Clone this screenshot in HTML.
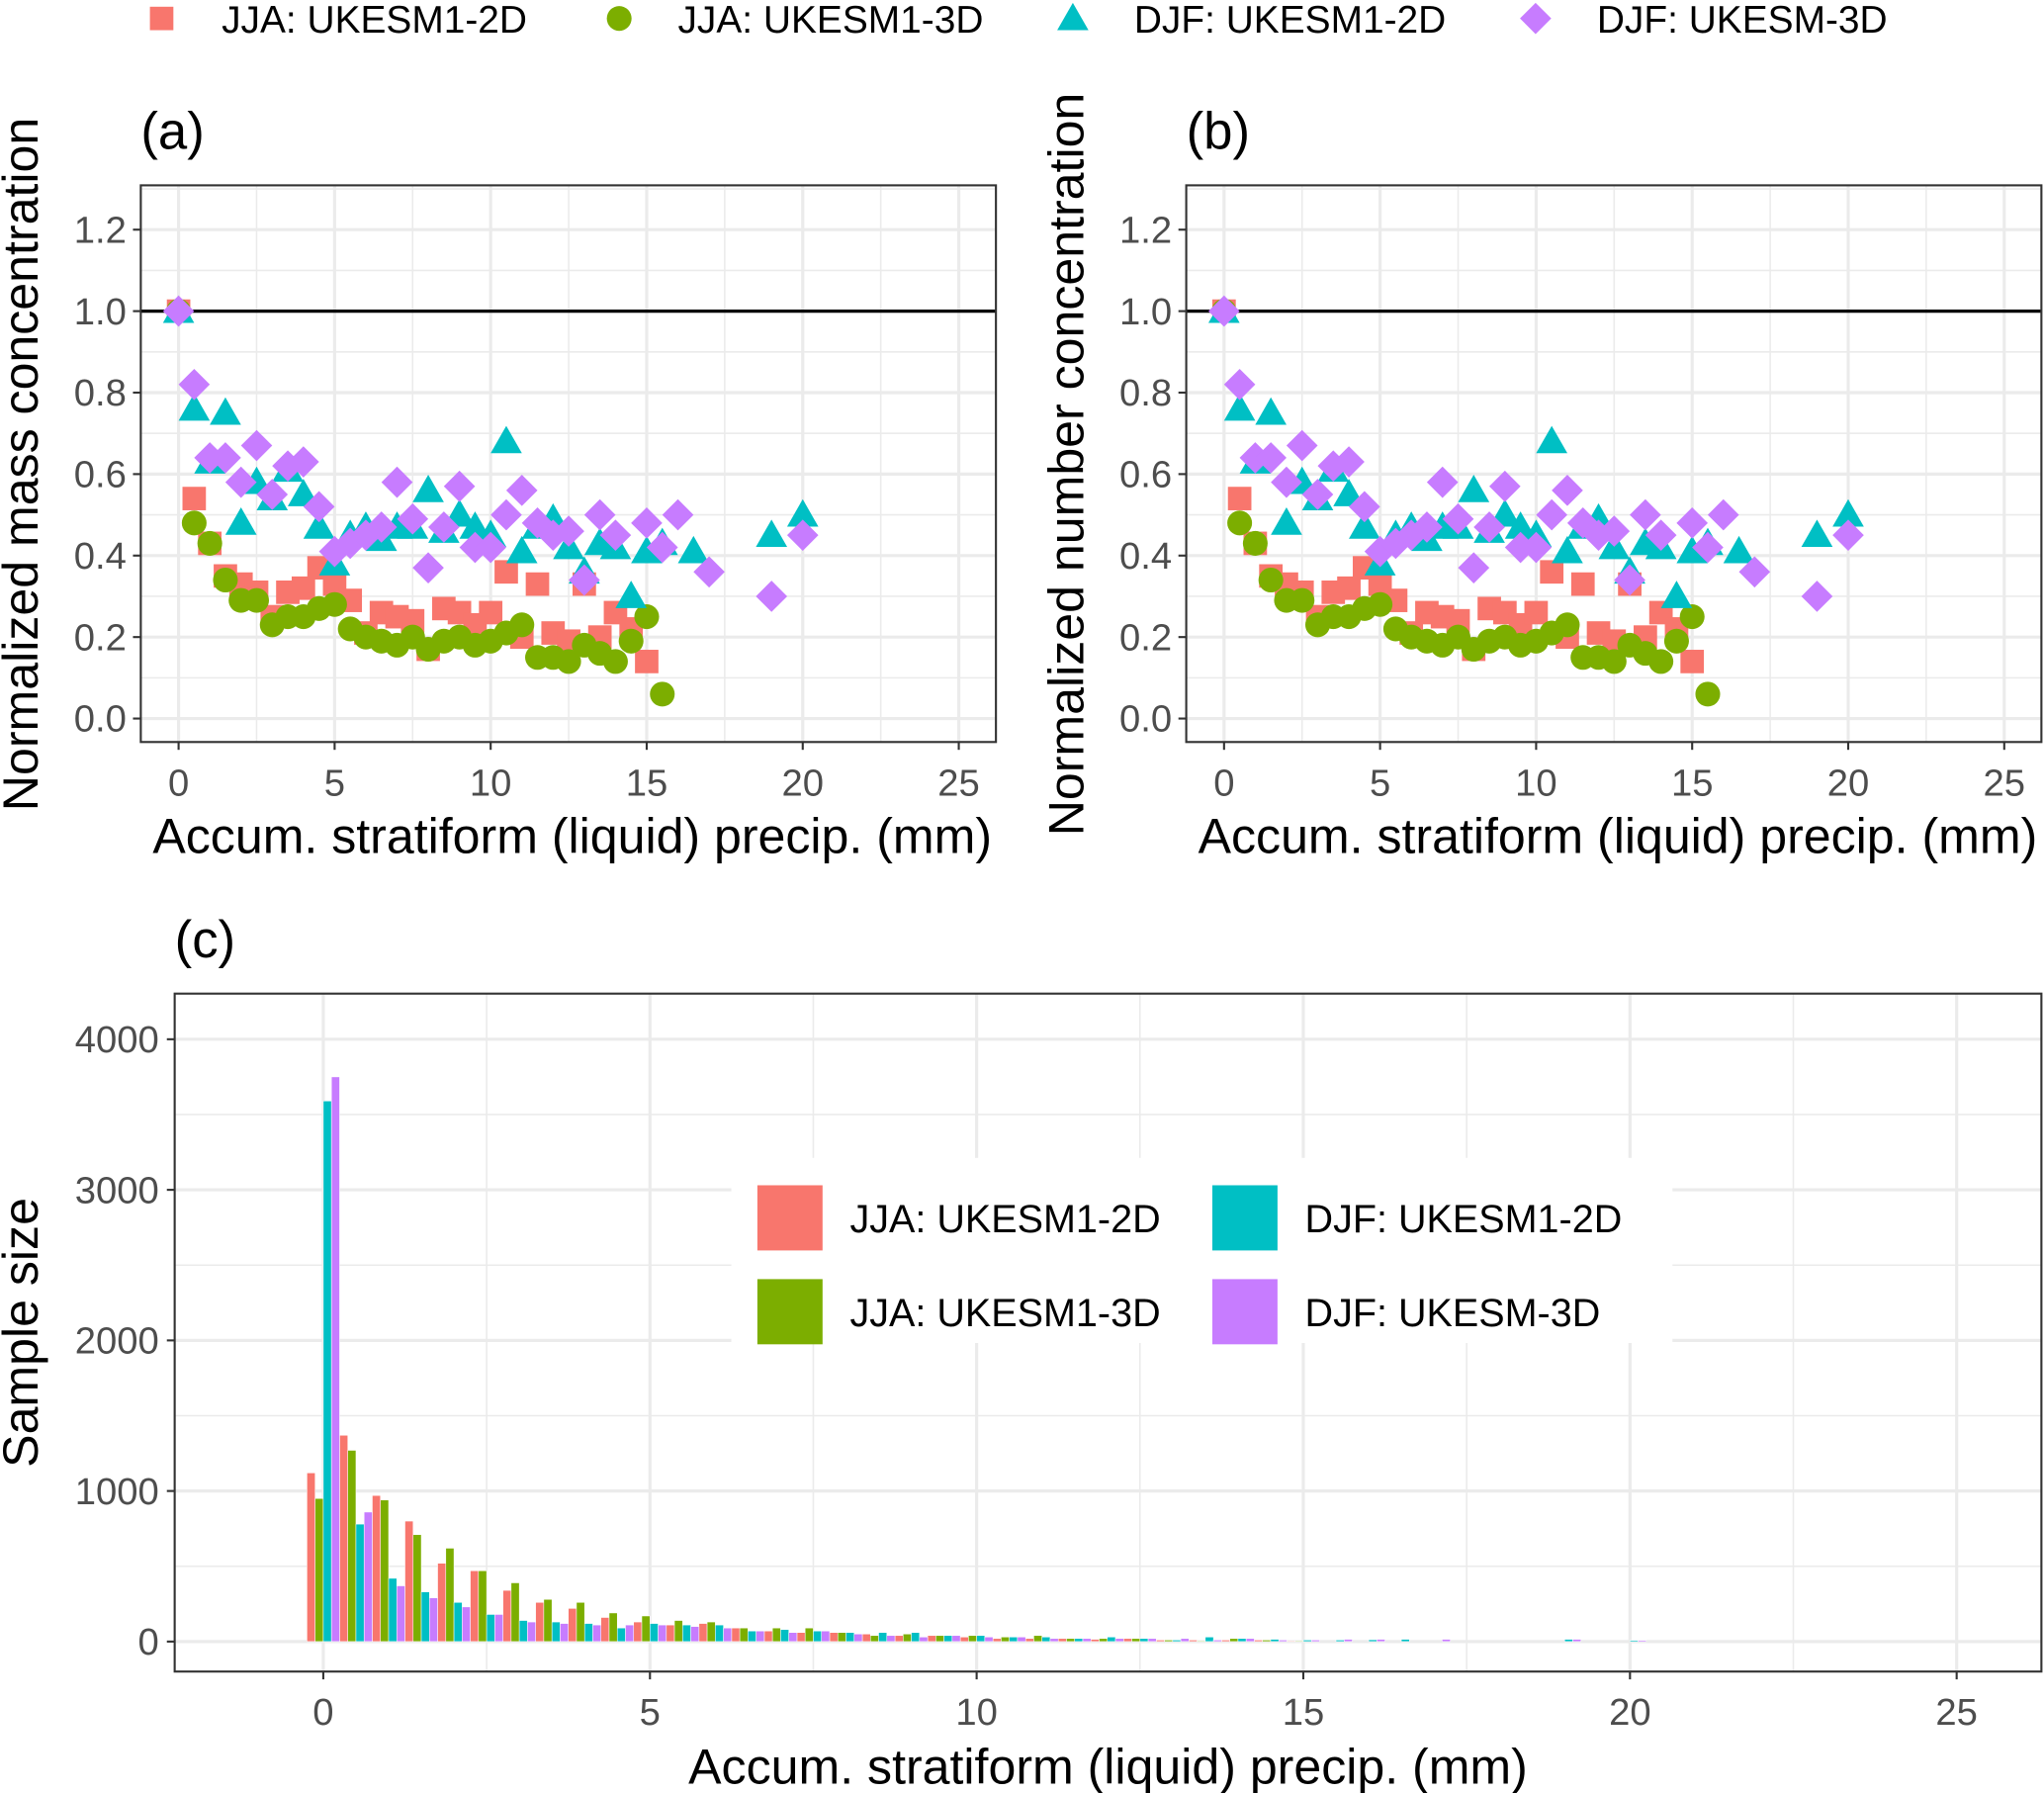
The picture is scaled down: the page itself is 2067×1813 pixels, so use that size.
<!DOCTYPE html>
<html><head><meta charset="utf-8"><style>
html,body{margin:0;padding:0;background:#fff}
svg{display:block}
text{font-family:"Liberation Sans",Arial,sans-serif}
</style></head><body>
<svg id="fig" width="2067" height="1813" viewBox="0 0 1568 1375" xmlns="http://www.w3.org/2000/svg"></svg>
<script>
// ---------- data ----------
const bins = [0,0.5,1,1.5,2,2.5,3,3.5,4,4.5,5,5.5,6,6.5,7,7.5,8,8.5,9,9.5,10,10.5,11,11.5,12,12.5,13,13.5,14,14.5,15,15.5,16,16.5,17,17.5,18,18.5,19,19.5,20];
const jja2dX = [0,0.5,1,1.5,2,2.5,3,3.5,4,4.5,5,5.5,6,6.5,7,7.5,8,8.5,9,9.5,10,10.5,11,11.5,12,12.5,13,13.5,14,14.5,15];
const jja2dY = [1.0,0.54,0.43,0.35,0.33,0.31,0.25,0.31,0.32,0.37,0.33,0.29,0.21,0.26,0.25,0.24,0.17,0.27,0.26,0.23,0.26,0.36,0.20,0.33,0.21,0.19,0.33,0.20,0.26,0.22,0.14];
const jja3dX = [0,0.5,1,1.5,2,2.5,3,3.5,4,4.5,5,5.5,6,6.5,7,7.5,8,8.5,9,9.5,10,10.5,11,11.5,12,12.5,13,13.5,14,14.5,15,15.5];
const jja3dY = [1.0,0.48,0.43,0.34,0.29,0.29,0.23,0.25,0.25,0.27,0.28,0.22,0.20,0.19,0.18,0.20,0.17,0.19,0.20,0.18,0.19,0.21,0.23,0.15,0.15,0.14,0.18,0.16,0.14,0.19,0.25,0.06];
const djf2dX = [0,0.5,1,1.5,2,2.5,3,3.5,4,4.5,5,5.5,6,6.5,7,7.5,8,8.5,9,9.5,10,10.5,11,11.5,12,12.5,13,13.5,14,14.5,15,15.5,16.5,19,20];
const djf2dY = [1.0,0.76,0.63,0.75,0.48,0.58,0.54,0.61,0.55,0.47,0.38,0.45,0.47,0.44,0.47,0.47,0.56,0.46,0.50,0.47,0.45,0.68,0.41,0.47,0.49,0.42,0.36,0.43,0.42,0.30,0.41,0.43,0.41,0.45,0.50];
const djf3dX = [0,0.5,1,1.5,2,2.5,3,3.5,4,4.5,5,5.5,6,6.5,7,7.5,8,8.5,9,9.5,10,10.5,11,11.5,12,12.5,13,13.5,14,15,15.5,16,17,19,20];
const djf3dY = [1.0,0.82,0.64,0.64,0.58,0.67,0.55,0.62,0.63,0.52,0.41,0.43,0.45,0.47,0.58,0.49,0.37,0.47,0.57,0.42,0.42,0.50,0.56,0.48,0.45,0.46,0.34,0.50,0.45,0.48,0.42,0.50,0.36,0.30,0.45];
// panel (c) counts per bin
const nJja2d = [1120,1370,970,800,520,470,340,260,220,160,130,110,120,90,70,60,60,50,40,40,30,20,20,20,15,20,10,10,10,10,5,0,0,0,0,0,0,0,0,0,0];
const nJja3d = [950,1270,940,710,620,470,390,280,260,190,170,140,130,90,90,90,60,40,50,40,40,30,40,20,20,20,10,5,20,10,5,0,0,0,0,0,0,0,0,0,0];
const nDjf2d = [3590,780,420,330,260,180,140,130,120,90,120,110,110,70,80,70,60,60,60,40,40,30,30,20,30,20,10,30,20,15,10,10,12,15,0,0,0,0,15,0,8];
const nDjf3d = [3750,860,370,290,230,180,130,120,110,110,110,100,90,70,60,70,50,40,30,40,30,30,20,20,20,20,20,10,20,10,10,15,15,0,15,0,0,0,15,0,8];
const xTicks = [0,5,10,15,20,25];
const yTicksAB = ["0.0","0.2","0.4","0.6","0.8","1.0","1.2"];
const yTicksC = [0,1000,2000,3000,4000];
const COL = {r:"#F8766D", g:"#7CAE00", t:"#00BFC4", p:"#C77CFF"};

const NS="http://www.w3.org/2000/svg";
const svg=document.getElementById('fig');
function el(tag,attrs,parent){const e=document.createElementNS(NS,tag);for(const k in attrs)e.setAttribute(k,attrs[k]);(parent||svg).appendChild(e);return e;}
function txt(s,attrs,parent){const e=el('text',attrs,parent);e.textContent=s;return e;}

function marker(shape,cx,cy,g){
  let m;
  if(shape==='r'){m=el('rect',{x:cx-9,y:cy-9,width:18,height:18,fill:COL.r},g);}
  else if(shape==='g'){m=el('circle',{cx:cx,cy:cy,r:9.5,fill:COL.g},g);}
  else if(shape==='t'){m=el('polygon',{points:`${cx},${cy-12} ${cx+12},${cy+9} ${cx-12},${cy+9}`,fill:COL.t},g);}
  else {m=el('polygon',{points:`${cx},${cy-12} ${cx+12},${cy} ${cx},${cy+12} ${cx-12},${cy}`,fill:COL.p},g);}
  return m;
}

// ---------- top legend ----------
const tl=el('g',{},svg);


const legItems=[['r',124,170,'JJA: UKESM1-2D'],['g',475,520,'JJA: UKESM1-3D'],['t',823,870,'DJF: UKESM1-2D'],['p',1178,1225,'DJF: UKESM-3D']];
legItems.forEach(it=>{
  const g=el('g',{},tl);
  
  
  marker(it[0],it[1],14,g);
  txt(it[3],{x:it[2],y:25,'font-size':29.5,fill:'#000'},g);
});

// ---------- scatter panels ----------
function scatterPanel(x0,label,ytitle,name){
  const X0=x0, X1=x0+656, Y0=142, Y1=569;
  const xs=v=>x0+29+v*23.94;
  const ys=v=>551-v*312.5;
  const g=el('g',{},svg);
  
  
  for(let v=2.5;v<=27.5;v+=5){const x=xs(v);if(x<X1)el('line',{x1:x,x2:x,y1:Y0,y2:Y1,stroke:'#ebebeb','stroke-width':1.2},g);}
  for(let v=0.1;v<1.35;v+=0.2){el('line',{x1:X0,x2:X1,y1:ys(v),y2:ys(v),stroke:'#ebebeb','stroke-width':1.2},g);}
  xTicks.forEach(v=>el('line',{x1:xs(v),x2:xs(v),y1:Y0,y2:Y1,stroke:'#ebebeb','stroke-width':2.4},g));
  yTicksAB.forEach(s=>el('line',{x1:X0,x2:X1,y1:ys(+s),y2:ys(+s),stroke:'#ebebeb','stroke-width':2.4},g));
  el('line',{x1:X0,x2:X1,y1:ys(1),y2:ys(1),stroke:'#000','stroke-width':2.4},g);
  const series=[['r',jja2dX,jja2dY],['g',jja3dX,jja3dY],['t',djf2dX,djf2dY],['p',djf3dX,djf3dY]];
  series.forEach(s=>{
    const sg=el('g',{},g);
    
    
    s[1].forEach((xv,i)=>{const m=marker(s[0],xs(xv),ys(s[2][i]),sg);
      
      });
  });
  el('rect',{x:X0,y:Y0,width:X1-X0,height:Y1-Y0,fill:'none',stroke:'#333','stroke-width':1.6},g);
  xTicks.forEach(v=>{el('line',{x1:xs(v),x2:xs(v),y1:Y1,y2:Y1+6,stroke:'#333','stroke-width':1.6},g);
    txt(String(v),{x:xs(v),y:Y1+41,'font-size':29,fill:'#4d4d4d','text-anchor':'middle'},g);});
  yTicksAB.forEach(s=>{el('line',{x1:X0-6,x2:X0,y1:ys(+s),y2:ys(+s),stroke:'#333','stroke-width':1.6},g);
    txt(s,{x:X0-11,y:ys(+s)+10,'font-size':29,fill:'#4d4d4d','text-anchor':'end'},g);});
  txt('Accum. stratiform (liquid) precip. (mm)',{x:(X0+X1)/2+3,y:654,'font-size':38,fill:'#000','text-anchor':'middle'},g);
  txt(ytitle,{x:0,y:0,'font-size':38,fill:'#000','text-anchor':'middle',transform:`translate(${X0-79},356) rotate(-90)`},g);
  txt(label,{x:X0,y:114,'font-size':40,fill:'#000'},g);
}
scatterPanel(108,'(a)','Normalized mass concentration','panel-a');
scatterPanel(910,'(b)','Normalized number concentration','panel-b');

// ---------- bar panel (c) ----------
(function(){
  const X0=134,X1=1566,Y0=762,Y1=1282;
  const xs=v=>248+v*50.12;
  const ys=v=>1259-v*0.1155;
  const g=el('g',{},svg);
  
  
  for(let v=-2.5;v<=27.5;v+=5){const x=xs(v);if(x>X0&&x<X1)el('line',{x1:x,x2:x,y1:Y0,y2:Y1,stroke:'#ebebeb','stroke-width':1.2},g);}
  for(let v=500;v<4500;v+=1000)el('line',{x1:X0,x2:X1,y1:ys(v),y2:ys(v),stroke:'#ebebeb','stroke-width':1.2},g);
  xTicks.forEach(v=>el('line',{x1:xs(v),x2:xs(v),y1:Y0,y2:Y1,stroke:'#ebebeb','stroke-width':2.4},g));
  yTicksC.forEach(v=>el('line',{x1:X0,x2:X1,y1:ys(v),y2:ys(v),stroke:'#ebebeb','stroke-width':2.4},g));
  const ser=[[nJja2d,COL.r],[nJja3d,COL.g],[nDjf2d,COL.t],[nDjf3d,COL.p]];
  const bw=0.125;
  ser.forEach((s,k)=>{
    const sg=el('g',{},g);
    
    
    bins.forEach((b,i)=>{const v=s[0][i]; if(!v)return;
      const xl=xs(b-0.25+k*bw), w=bw*50.12;
      const r=el('rect',{x:xl,y:ys(v),width:w,height:ys(0)-ys(v),fill:s[1],stroke:'#fff','stroke-width':0.4},sg);
      
      
    });
  });
  const lg=el('g',{},g);
  
  
  el('rect',{x:561,y:888,width:722,height:142,fill:'#fff'},lg);
  const items=[[581,909,COL.r,'JJA: UKESM1-2D',652],[930,909,COL.t,'DJF: UKESM1-2D',1001],[581,981,COL.g,'JJA: UKESM1-3D',652],[930,981,COL.p,'DJF: UKESM-3D',1001]];
  items.forEach(it=>{const e=el('g',{},lg);
    
    
    el('rect',{x:it[0],y:it[1],width:50,height:50,fill:it[2]},e);
    txt(it[3],{x:it[4],y:it[1]+36,'font-size':30,fill:'#000'},e);});
  el('rect',{x:X0,y:Y0,width:X1-X0,height:Y1-Y0,fill:'none',stroke:'#333','stroke-width':1.6},g);
  xTicks.forEach(v=>{el('line',{x1:xs(v),x2:xs(v),y1:Y1,y2:Y1+6,stroke:'#333','stroke-width':1.6},g);
    txt(String(v),{x:xs(v),y:Y1+41,'font-size':29,fill:'#4d4d4d','text-anchor':'middle'},g);});
  yTicksC.forEach(v=>{el('line',{x1:X0-6,x2:X0,y1:ys(v),y2:ys(v),stroke:'#333','stroke-width':1.6},g);
    txt(String(v),{x:X0-12,y:ys(v)+10,'font-size':29,fill:'#4d4d4d','text-anchor':'end'},g);});
  txt('Accum. stratiform (liquid) precip. (mm)',{x:850,y:1368,'font-size':38,fill:'#000','text-anchor':'middle'},g);
  txt('Sample size',{x:0,y:0,'font-size':38,fill:'#000','text-anchor':'middle',transform:'translate(29,1022) rotate(-90)'},g);
  txt('(c)',{x:134,y:734,'font-size':40,fill:'#000'},g);
})();
</script>
</body></html>
